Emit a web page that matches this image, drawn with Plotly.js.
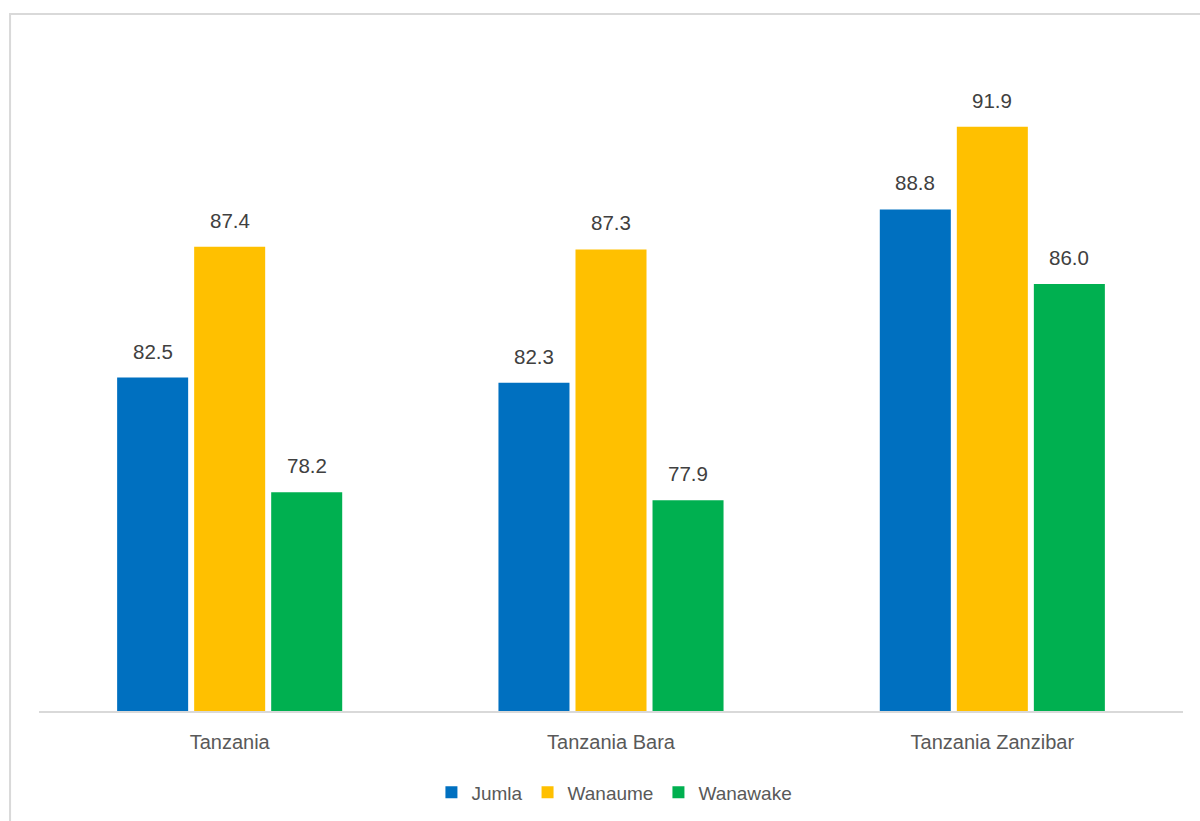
<!DOCTYPE html>
<html>
<head>
<meta charset="utf-8">
<script src="https://cdn.plot.ly/plotly-3.0.1.min.js"></script>
<style>
html,body{margin:0;padding:0;background:#fff;}
#chart{width:1200px;height:821px;}
</style>
</head>
<body>
<div id="chart"></div>
<script>
const categories = ["Tanzania", "Tanzania Bara", "Tanzania Zanzibar"];
const seriesNames = ["Jumla", "Wanaume", "Wanawake"];
const jumla = [82.5, 82.3, 88.8];
const wanaume = [87.4, 87.3, 91.9];
const wanawake = [78.2, 77.9, 86.0];
const seriesColors = ["#0070C0", "#FFC000", "#00B050"];

const allSeries = [jumla, wanaume, wanawake];
const bargap = 0.394;
const bargroupgap = 0.078;
const fontFam = '"Liberation Sans", Arial, sans-serif';

const traces = allSeries.map((vals, j) => ({
  type: 'bar',
  name: seriesNames[j],
  x: categories,
  y: vals,
  marker: {color: seriesColors[j]},
  hoverinfo: 'x+y+name'
}));

// data labels placed above each bar using the axis scales
const slot = (1 - bargap) / allSeries.length;
const annotations = [];
allSeries.forEach((vals, j) => {
  vals.forEach((v, i) => {
    annotations.push({
      x: i + (j - (allSeries.length - 1) / 2) * slot,
      y: v,
      xref: 'x', yref: 'y',
      text: v.toFixed(1),
      showarrow: false,
      yanchor: 'bottom',
      yshift: 13,
      font: {family: fontFam, size: 20.5, color: '#404040'}
    });
  });
});

const layout = {
  width: 1200,
  height: 821,
  margin: {l: 39, r: 17, t: 44, b: 109.5, autoexpand: false},
  paper_bgcolor: '#ffffff',
  plot_bgcolor: '#ffffff',
  barmode: 'group',
  bargap: bargap,
  bargroupgap: bargroupgap,
  showlegend: true,
  legend: {
    orientation: 'h',
    x: 0.503, xanchor: 'center',
    y: -0.122, yanchor: 'middle',
    font: {family: fontFam, size: 19, color: '#595959'},
    itemclick: false
  },
  xaxis: {
    type: 'category',
    showline: true,
    linecolor: '#d9d9d9',
    linewidth: 2,
    ticks: '',
    ticklabelstandoff: 12,
    tickfont: {family: fontFam, size: 20, color: '#595959'},
    showgrid: false,
    zeroline: false,
    fixedrange: true
  },
  yaxis: {
    range: [70, 95],
    showticklabels: false,
    showgrid: false,
    zeroline: false,
    showline: false,
    ticks: '',
    fixedrange: true
  },
  annotations: annotations,
  shapes: [{
    type: 'rect',
    xref: 'paper', yref: 'paper',
    x0: -0.0253, x1: 1.1,
    y0: -0.3, y1: 1.0449,
    line: {color: '#d9d9d9', width: 2},
    fillcolor: 'rgba(0,0,0,0)',
    layer: 'below'
  }]
};

Plotly.newPlot('chart', traces, layout, {displayModeBar: false, staticPlot: false});
</script>
</body>
</html>
